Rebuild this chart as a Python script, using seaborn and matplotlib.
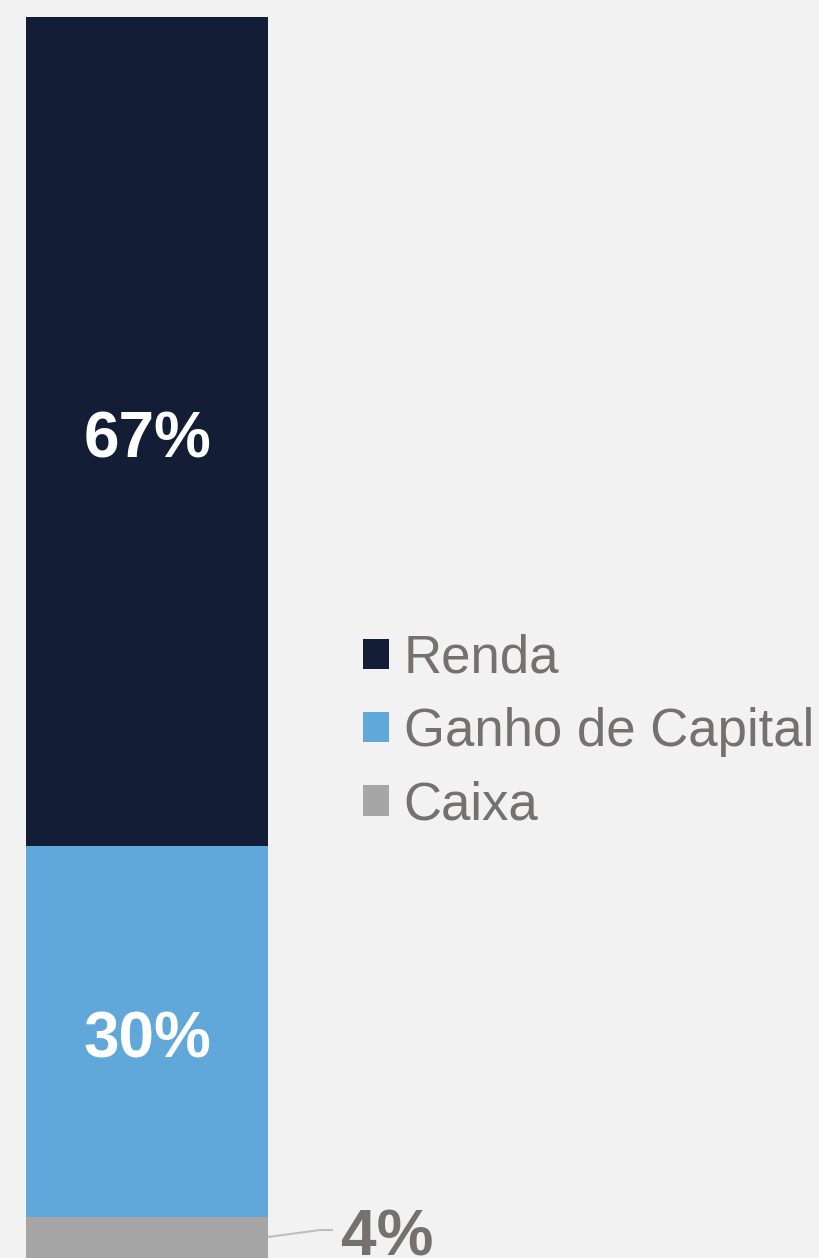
import numpy as np
import matplotlib
matplotlib.use("Agg")
import matplotlib.pyplot as plt
import seaborn as sns
import pandas as pd

categories = ["Renda", "Ganho de Capital", "Caixa"]
values = [67, 30, 4]
labels = ["67%", "30%", "4%"]
colors = ["#131E36", "#61A8DA", "#A6A6A6"]

sns.set_theme(style="white")
plt.rcParams["font.family"] = ["Liberation Sans", "DejaVu Sans"]

W, H, DPI = 820, 1258, 100
fig = plt.figure(figsize=(W / DPI, H / DPI), dpi=DPI, facecolor="#F2F2F2")
ax = fig.add_axes([0, 0, 1, 1])
ax.set_facecolor("#F2F2F2")

# stacked totals (bottom-up order: Caixa, Ganho, Renda)
vals_bottom_up = values[::-1]
cum = np.cumsum(vals_bottom_up)[::-1]  # totals for Renda, Ganho, Caixa
df = pd.DataFrame({"g": ["x"] * 3, "cat": categories, "total": cum})

for i, cat in enumerate(categories):
    sns.barplot(data=df[df["cat"] == cat], x="g", y="total", color=colors[i],
                width=1.0, saturation=1, ax=ax, label=cat, linewidth=0)

# layout mapping (pixels)
px_per_unit_y = 1200 / 97.0
top_px = 17
total = cum[0]
y_top = total + top_px / px_per_unit_y
y_bot = y_top - H / px_per_unit_y
ax.set_ylim(y_bot, y_top)
bar_w_px = 242
x_left = -0.5 - 26 / bar_w_px
ax.set_xlim(x_left, x_left + W / bar_w_px)
ax.set_axis_off()

def px2data(px, py):
    return (x_left + px / bar_w_px, y_top - py / px_per_unit_y)

# inside labels
bottoms = list(cum[1:]) + [0]
shift = 9 / px_per_unit_y
for i in range(2):
    yc = bottoms[i] + values[i] / 2 - shift
    ax.text(0, yc, labels[i], ha="center", va="center", color="white",
            fontsize=46, fontweight="bold")

# Caixa label with leader line (cut by the lower edge, as in the reference)
p1 = (0.5, px2data(0, 1237)[1])
p2 = px2data(320, 1230)
p3 = px2data(333, 1230)
ax.plot([p1[0], p2[0], p3[0]], [p1[1], p2[1], p3[1]], color="#BFBFBF", lw=1.5,
        solid_capstyle="butt")
tx, ty = px2data(341, 1238)
ax.text(tx, ty, labels[2], ha="left", va="center", color="#767171",
        fontsize=46, fontweight="bold")

leg = ax.legend(loc="center left", bbox_to_anchor=(363 / W, 1 - 732 / H),
                bbox_transform=fig.transFigure, frameon=False, fontsize=38,
                handlelength=0.5, handleheight=0.5, handletextpad=0.27,
                labelspacing=0.44, borderpad=0, borderaxespad=0)
for t in leg.get_texts():
    t.set_color("#767171")

fig.savefig("out.png", dpi=DPI, facecolor=fig.get_facecolor())
